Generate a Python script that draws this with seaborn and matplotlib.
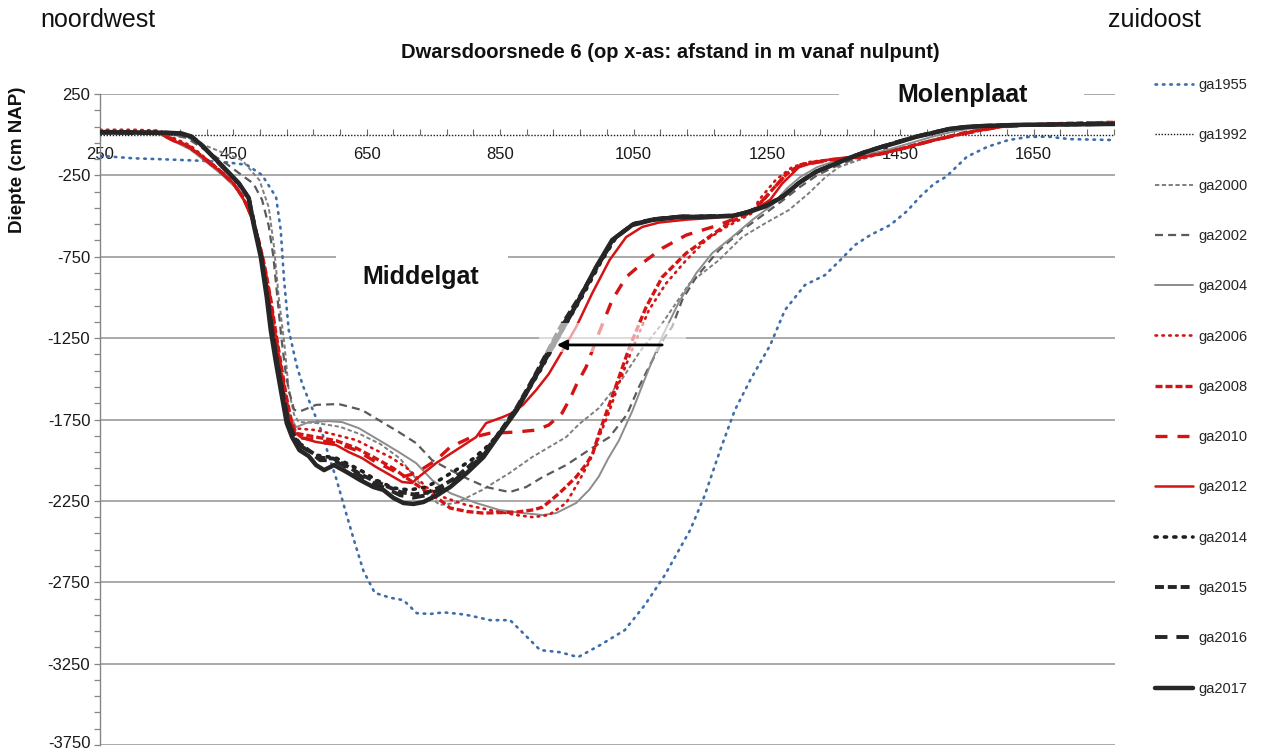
import numpy as np
import pandas as pd
import matplotlib
matplotlib.use("Agg")
import matplotlib.pyplot as plt
import matplotlib.transforms as mtransforms
from matplotlib.patches import Rectangle
import seaborn as sns

# ---- cross-section profiles: distance from origin (m) and depth (cm NAP) ----
x_1955 = [250, 300, 350, 400, 440, 470, 493, 514, 521, 526, 533, 545, 554, 565, 574, 583, 592, 604,
          619, 630, 645, 662, 685, 705, 725, 745, 765, 790, 805, 835, 865, 880, 910, 940, 967, 1000,
          1037, 1067, 1097, 1135, 1157, 1180, 1202, 1225, 1255, 1277, 1307, 1337, 1360, 1382, 1405,
          1435, 1460, 1480, 1501, 1519, 1550, 1581, 1612, 1642, 1672, 1703, 1772]
y_1955 = [-130, -145, -152, -160, -170, -185, -248, -383, -586, -892, -1200, -1420, -1540, -1650,
          -1740, -1830, -1960, -2110, -2325, -2480, -2680, -2815, -2845, -2860, -2940, -2945, -2935,
          -2945, -2955, -2983, -2983, -3044, -3167, -3180, -3210, -3136, -3044, -2890, -2706, -2429,
          -2214, -1938, -1692, -1508, -1293, -1078, -924, -863, -771, -678, -617, -555, -470, -380,
          -300, -258, -135, -74, -33, -14, -12, -27, -33]

x_1992 = [250, 1772]
y_1992 = [0, 0]

x_2000 = [250, 300, 350, 380, 410, 440, 463, 489, 503, 511, 518, 527, 533, 541, 548, 575, 610, 640,
          670, 700, 725, 745, 760, 784, 823, 864, 898, 949, 968, 998, 1033, 1060, 1093, 1134, 1178,
          1213, 1248, 1283, 1313, 1338, 1358, 1388, 1420, 1450, 1480, 1510, 1540, 1570, 1600, 1650, 1772]
y_2000 = [10, 8, 5, -15, -70, -120, -156, -279, -445, -690, -997, -1305, -1569, -1720, -1765, -1772,
          -1795, -1840, -1900, -1990, -2120, -2230, -2275, -2263, -2183, -2079, -1981, -1858, -1780,
          -1680, -1500, -1330, -1160, -913, -771, -629, -543, -463, -359, -260, -199, -156, -120, -90,
          -55, -25, 5, 30, 48, 60, 68]

x_2002 = [250, 300, 350, 380, 410, 440, 463, 480, 493, 503, 510, 516, 522, 528, 533, 541, 550, 574,
          608, 643, 673, 698, 724, 748, 775, 799, 829, 864, 889, 914, 949, 983, 1014, 1040, 1058,
          1074, 1096, 1108, 1123, 1144, 1178, 1213, 1248, 1275, 1300, 1325, 1350, 1375, 1400, 1425,
          1450, 1475, 1500, 1525, 1550, 1600, 1650, 1700, 1772]
y_2002 = [10, 8, 5, -20, -100, -180, -250, -300, -400, -560, -750, -1000, -1250, -1450, -1569, -1690,
          -1700, -1660, -1655, -1692, -1766, -1827, -1895, -2000, -2060, -2110, -2165, -2196, -2165,
          -2103, -2030, -1938, -1858, -1720, -1551, -1420, -1250, -1180, -1016, -875, -710, -586,
          -482, -400, -320, -250, -200, -160, -135, -110, -85, -55, -30, -5, 20, 50, 60, 64, 68]

x_2004 = [250, 300, 340, 360, 385, 410, 434, 452, 468, 482, 493, 502, 509, 517, 525, 532, 544, 563,
          593, 613, 638, 673, 698, 724, 748, 775, 814, 849, 884, 914, 934, 964, 984, 998, 1012, 1028,
          1048, 1069, 1093, 1118, 1144, 1168, 1198, 1228, 1258, 1280, 1300, 1325, 1350, 1375, 1400,
          1425, 1450, 1475, 1500, 1525, 1550, 1600, 1650, 1700, 1772]
y_2004 = [10, 8, 2, -40, -90, -170, -250, -320, -420, -560, -740, -960, -1180, -1400, -1580, -1700,
          -1797, -1766, -1760, -1766, -1803, -1888, -1950, -2018, -2122, -2202, -2263, -2306, -2325,
          -2337, -2325, -2263, -2180, -2100, -1990, -1880, -1700, -1480, -1240, -1030, -851, -728,
          -629, -524, -432, -330, -260, -200, -165, -140, -120, -100, -70, -40, -10, 15, 35, 55, 62,
          65, 68]

x_2006 = [250, 300, 340, 360, 385, 410, 434, 450, 464, 477, 487, 496, 505, 512, 520, 528, 534, 538,
          574, 604, 634, 664, 688, 714, 739, 764, 799, 834, 874, 899, 923, 949, 968, 985, 998, 1012,
          1028, 1044, 1054, 1073, 1099, 1129, 1159, 1189, 1228, 1238, 1263, 1288, 1313, 1340, 1370,
          1400, 1425, 1450, 1475, 1500, 1525, 1550, 1575, 1600, 1650, 1700, 1772]
y_2006 = [30, 30, 25, -20, -65, -150, -232, -295, -380, -500, -640, -800, -1000, -1200, -1400, -1600,
          -1760, -1803, -1815, -1845, -1876, -1938, -1987, -2060, -2165, -2226, -2275, -2306, -2337,
          -2350, -2337, -2263, -2130, -2000, -1860, -1720, -1530, -1360, -1262, -1078, -913, -771,
          -647, -567, -482, -402, -279, -199, -168, -155, -145, -135, -115, -90, -62, -35, -12, 10,
          30, 48, 62, 70, 78]

x_2008 = [250, 300, 340, 360, 385, 410, 434, 450, 465, 478, 488, 497, 506, 513, 521, 529, 537, 544,
          574, 604, 634, 664, 690, 710, 735, 760, 775, 800, 824, 850, 874, 900, 914, 939, 964, 980,
          989, 998, 1010, 1024, 1044, 1069, 1093, 1129, 1163, 1193, 1228, 1245, 1262, 1280, 1300,
          1325, 1350, 1375, 1400, 1425, 1450, 1475, 1500, 1525, 1550, 1575, 1600, 1650, 1700, 1772]
y_2008 = [20, 18, 10, -30, -75, -155, -235, -300, -390, -510, -650, -810, -1010, -1200, -1400, -1600,
          -1760, -1835, -1858, -1880, -1925, -1990, -2050, -2110, -2180, -2245, -2294, -2315, -2325,
          -2322, -2319, -2305, -2288, -2202, -2103, -2020, -1957, -1840, -1700, -1540, -1305, -1059,
          -875, -728, -629, -543, -470, -400, -320, -240, -185, -165, -152, -143, -133, -113, -88,
          -60, -33, -10, 12, 32, 50, 62, 70, 76]

x_2010 = [250, 300, 340, 360, 385, 410, 434, 450, 464, 477, 487, 496, 505, 512, 520, 528, 535, 544,
          574, 604, 634, 664, 688, 703, 724, 754, 775, 804, 834, 874, 904, 923, 943, 955, 964, 979,
          998, 1018, 1039, 1063, 1093, 1129, 1174, 1219, 1240, 1260, 1280, 1300, 1325, 1350, 1375,
          1400, 1425, 1450, 1475, 1500, 1525, 1550, 1575, 1600, 1650, 1700, 1772]
y_2010 = [14, 12, 6, -35, -80, -160, -240, -300, -380, -500, -640, -800, -1000, -1200, -1400, -1600,
          -1750, -1858, -1876, -1895, -1938, -2012, -2060, -2103, -2079, -2000, -1920, -1864, -1835,
          -1827, -1815, -1784, -1710, -1620, -1540, -1427, -1220, -1016, -875, -790, -698, -617,
          -560, -490, -420, -330, -240, -190, -170, -155, -145, -135, -115, -90, -62, -35, -12, 10,
          30, 48, 60, 67, 73]

x_2012 = [250, 300, 340, 358, 384, 409, 433, 448, 462, 475, 485, 494, 503, 510, 518, 526, 533, 537,
          553, 574, 604, 623, 643, 664, 685, 703, 718, 728, 754, 784, 814, 829, 854, 868, 884, 904,
          923, 938, 964, 988, 1014, 1039, 1063, 1088, 1129, 1174, 1219, 1240, 1255, 1273, 1298, 1323,
          1348, 1373, 1398, 1423, 1448, 1473, 1498, 1523, 1548, 1573, 1598, 1650, 1700, 1772]
y_2012 = [15, 14, 8, -33, -75, -156, -236, -290, -370, -480, -620, -790, -990, -1200, -1400, -1600,
          -1740, -1815, -1864, -1888, -1907, -1950, -1987, -2042, -2091, -2134, -2140, -2103, -2018,
          -1938, -1858, -1772, -1735, -1710, -1661, -1569, -1470, -1366, -1182, -975, -771, -629,
          -567, -540, -522, -510, -480, -440, -400, -300, -200, -168, -150, -138, -135, -115, -90,
          -64, -38, -14, 10, 29, 47, 60, 66, 72]

x_2014 = [250, 300, 350, 372, 386, 400, 433, 458, 473, 481, 492, 501, 508, 516, 525, 533, 548, 574,
          604, 640, 664, 690, 714, 739, 759, 784, 810, 835, 860, 885, 910, 945, 975, 1000, 1024, 1052,
          1080, 1120, 1150, 1200, 1225, 1250, 1275, 1300, 1325, 1350, 1375, 1400, 1425, 1450, 1475,
          1500, 1525, 1550, 1575, 1625, 1675, 1772]
y_2014 = [14, 12, 10, 6, -12, -56, -192, -298, -390, -545, -750, -997, -1200, -1403, -1612, -1780,
          -1907, -1969, -1987, -2060, -2122, -2171, -2183, -2165, -2122, -2060, -1990, -1900, -1770,
          -1620, -1450, -1190, -980, -790, -630, -545, -518, -503, -503, -497, -470, -432, -372, -288,
          -224, -182, -140, -102, -70, -40, -12, 12, 36, 48, 54, 60, 62, 66]

x_2015 = [250, 300, 350, 372, 387, 401, 433, 458, 473, 481, 492, 501, 508, 516, 525, 532, 540, 550,
          565, 580, 600, 620, 640, 660, 680, 700, 720, 740, 760, 780, 800, 825, 850, 875, 900, 940,
          970, 998, 1022, 1050, 1080, 1120, 1150, 1200, 1225, 1250, 1275, 1300, 1325, 1350, 1375,
          1400, 1425, 1450, 1475, 1500, 1525, 1550, 1575, 1625, 1675, 1772]
y_2015 = [14, 12, 11, 6, -12, -57, -193, -299, -390, -545, -750, -997, -1200, -1403, -1612, -1765,
          -1845, -1900, -1945, -1985, -1990, -2035, -2085, -2125, -2160, -2195, -2210, -2200, -2165,
          -2115, -2050, -1960, -1825, -1675, -1495, -1185, -990, -795, -635, -548, -519, -503, -503,
          -497, -470, -436, -376, -291, -226, -183, -141, -103, -71, -41, -11, 13, 36, 48, 54, 60,
          62, 66]

x_2016 = [250, 300, 350, 373, 388, 402, 433, 458, 473, 481, 492, 501, 508, 516, 525, 532, 540, 550,
          565, 580, 600, 620, 640, 660, 680, 700, 720, 740, 760, 780, 800, 825, 850, 875, 900, 940,
          970, 996, 1020, 1050, 1080, 1120, 1150, 1200, 1225, 1250, 1275, 1300, 1325, 1350, 1375,
          1400, 1425, 1450, 1475, 1500, 1525, 1550, 1575, 1625, 1675, 1772]
y_2016 = [14, 12, 12, 5, -13, -58, -195, -300, -390, -545, -750, -997, -1200, -1403, -1612, -1760,
          -1840, -1910, -1950, -2000, -2000, -2045, -2095, -2140, -2175, -2215, -2230, -2215, -2180,
          -2130, -2060, -1970, -1830, -1680, -1500, -1195, -1000, -800, -640, -550, -520, -503, -503,
          -497, -470, -435, -375, -290, -225, -183, -140, -102, -70, -40, -10, 14, 36, 48, 54, 60,
          62, 66]

x_2017 = [250, 300, 350, 372, 386, 400, 433, 458, 473, 480, 491, 500, 506, 514, 523, 530, 538, 549,
          563, 574, 586, 601, 620, 640, 660, 675, 690, 705, 720, 735, 756, 775, 800, 825, 850, 875,
          900, 936, 968, 994, 1018, 1048, 1078, 1118, 1148, 1198, 1223, 1248, 1273, 1298, 1323, 1348,
          1373, 1398, 1423, 1448, 1473, 1498, 1523, 1548, 1573, 1623, 1673, 1772]
y_2017 = [15, 14, 12, 8, -10, -55, -190, -297, -389, -545, -750, -997, -1200, -1403, -1612, -1772,
          -1858, -1938, -1975, -2030, -2061, -2030, -2073, -2122, -2165, -2183, -2232, -2263, -2269,
          -2257, -2214, -2165, -2079, -1981, -1835, -1692, -1508, -1250, -1016, -813, -647, -555,
          -524, -506, -506, -500, -475, -440, -383, -297, -229, -187, -144, -106, -75, -45, -14, 10,
          35, 47, 53, 60, 62, 66]

# ---- labels ----
series_names = ["ga1955", "ga1992", "ga2000", "ga2002", "ga2004", "ga2006", "ga2008",
                "ga2010", "ga2012", "ga2014", "ga2015", "ga2016", "ga2017"]
series_x = [x_1955, x_1992, x_2000, x_2002, x_2004, x_2006, x_2008,
            x_2010, x_2012, x_2014, x_2015, x_2016, x_2017]
series_y = [y_1955, y_1992, y_2000, y_2002, y_2004, y_2006, y_2008,
            y_2010, y_2012, y_2014, y_2015, y_2016, y_2017]
x_ticks = [250, 450, 650, 850, 1050, 1250, 1450, 1650]
y_ticks = [250, -250, -750, -1250, -1750, -2250, -2750, -3250, -3750]
title = "Dwarsdoorsnede 6 (op x-as: afstand in m vanaf nulpunt)"

# ---- line styling per survey year ----
RED = "#D41414"
styles = {
    "ga1955": dict(color="#3D6DAA", lw=1.9, ls=(0, (0.6, 2.2)), cap="round"),
    "ga1992": dict(color="#1a1a1a", lw=1.0, ls=(0, (1, 1.2)), cap="butt"),
    "ga2000": dict(color="#7F7F7F", lw=1.4, ls=(0, (2.2, 1.3)), cap="butt"),
    "ga2002": dict(color="#5A5A5A", lw=1.6, ls=(0, (3.6, 2.3)), cap="butt"),
    "ga2004": dict(color="#8C8C8C", lw=1.4, ls="-", cap="butt"),
    "ga2006": dict(color=RED, lw=1.9, ls=(0, (0.6, 2.0)), cap="round"),
    "ga2008": dict(color=RED, lw=2.4, ls=(0, (2.1, 0.9)), cap="butt"),
    "ga2010": dict(color=RED, lw=2.4, ls=(0, (3.6, 3.0)), cap="butt"),
    "ga2012": dict(color=RED, lw=1.8, ls="-", cap="butt"),
    "ga2014": dict(color="#1f1f1f", lw=2.6, ls=(0, (0.6, 2.0)), cap="round"),
    "ga2015": dict(color="#262626", lw=2.8, ls=(0, (2.3, 1.0)), cap="butt"),
    "ga2016": dict(color="#262626", lw=2.8, ls=(0, (3.2, 2.3)), cap="butt"),
    "ga2017": dict(color="#262626", lw=3.2, ls="-", cap="butt"),
}

sns.set_theme(style="white")
plt.rcParams["font.family"] = ["Liberation Sans", "DejaVu Sans"]

W, H = 1262, 751
fig = plt.figure(figsize=(W / 100, H / 100), dpi=100)
ax = fig.add_axes([100 / W, 6 / H, 1015 / W, 651 / H])

handles = []
for name, xs, ys in zip(series_names, series_x, series_y):
    st = styles[name]
    df = pd.DataFrame({"afstand": xs, "diepte": ys})
    sns.lineplot(data=df, x="afstand", y="diepte", ax=ax, color=st["color"], lw=st["lw"],
                 estimator=None, errorbar=None, sort=True, label=name, legend=False)
    line = ax.lines[-1]
    line.set_linestyle(st["ls"])
    line.set_dash_capstyle(st["cap"])
    line.set_zorder(3)
    handles.append(line)

# axes ranges and ticks
ax.set_xlim(250, 1772)
ax.set_ylim(-3750, 250)
ax.set_xticks(x_ticks)
ax.set_xticklabels([str(v) for v in x_ticks])
ax.set_xticks(np.arange(250, 1772, 40), minor=True)
ax.set_yticks(y_ticks)
ax.set_yticklabels([str(v) for v in y_ticks])
ax.set_yticks(np.arange(-3750, 251, 100), minor=True)
ax.set_xlabel("")
ax.set_ylabel("")

for side in ["top", "right"]:
    ax.spines[side].set_visible(False)
ax.spines["bottom"].set_position(("data", 0))
ax.spines["bottom"].set_color("none")
ax.spines["left"].set_color("#868686")
ax.spines["left"].set_linewidth(1.0)

ax.tick_params(axis="x", which="both", direction="in", length=4, color="#6b6b6b", width=0.8,
               pad=9, labelsize=12, labelcolor="#1a1a1a", bottom=True)
ax.tick_params(axis="y", which="both", direction="out", length=4, color="#868686", width=0.9,
               pad=3, labelsize=12, labelcolor="#1a1a1a", left=True)
for lab in ax.get_xticklabels():
    lab.set_zorder(4)
# keep the lowest depth label inside the figure edge
lowest = ax.get_yticklabels()[-1]
lowest.set_transform(lowest.get_transform() +
                     mtransforms.ScaledTranslation(0, 2 / 72, fig.dpi_scale_trans))

ax.set_axisbelow(True)
ax.grid(axis="y", which="major", color="#A3A3A3", lw=1.3)
ax.grid(axis="x", visible=False)

# gaps in the gridlines behind the area names
ax.add_patch(Rectangle((1358, 150), 368, 180, facecolor="white", edgecolor="none", zorder=1))
ax.add_patch(Rectangle((604, -850), 258, 200, facecolor="white", edgecolor="none", zorder=1))
ax.text(1543, 244, "Molenplaat", fontsize=18, fontweight="bold", ha="center", va="center",
        color="#111111", zorder=4)
ax.text(731, -874, "Middelgat", fontsize=18, fontweight="bold", ha="center", va="center",
        color="#111111", zorder=4)

# shift of the channel slope
ax.add_patch(Rectangle((908, -1335), 221, 178, facecolor="white", edgecolor="none",
                       alpha=0.6, zorder=5))
ax.annotate("", xy=(935, -1292), xytext=(1093, -1292),
            arrowprops=dict(arrowstyle="-|>", color="black", lw=2.0, mutation_scale=14,
                            shrinkA=0, shrinkB=0), zorder=6)

# titles and orientation labels
fig.text(670 / W, 1 - 53 / H, title, fontsize=14.5, fontweight="bold", ha="center", va="center",
         color="#111111")
fig.text(40 / W, 1 - 20 / H, "noordwest", fontsize=18, ha="left", va="center", color="#111111")
fig.text(1201 / W, 1 - 20 / H, "zuidoost", fontsize=18, ha="right", va="center", color="#111111")
fig.text(18 / W, 1 - 160 / H, "Diepte (cm NAP)", fontsize=13.5, fontweight="bold", rotation=90,
         ha="center", va="center", color="#111111")

fig.legend(handles, series_names, loc="upper left", bbox_to_anchor=(1155 / W, 1 - 78 / H),
           frameon=False, fontsize=10.5, handlelength=2.6, handletextpad=0.4,
           labelspacing=2.49, borderpad=0, borderaxespad=0)

fig.savefig("out.png", dpi=100, facecolor="white")
